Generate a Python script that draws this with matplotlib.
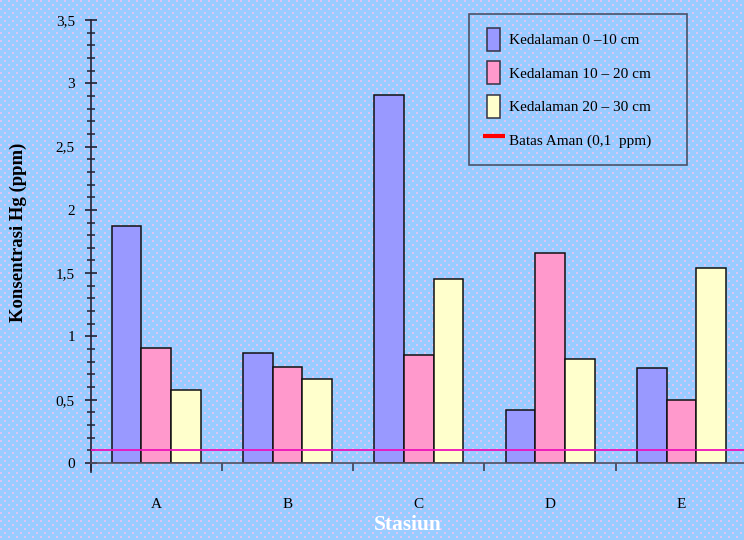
import numpy as np
import matplotlib
matplotlib.use('Agg')
import matplotlib.pyplot as plt
from matplotlib.patches import Patch, Rectangle
from matplotlib.lines import Line2D
from matplotlib.legend_handler import HandlerPatch
from matplotlib.ticker import MultipleLocator, FixedLocator, FixedFormatter, NullFormatter

# Mercury concentration per station and sampling depth
stasiun = ['A', 'B', 'C', 'D', 'E']
depth_0_10 = [1.87, 0.87, 2.91, 0.42, 0.75]
depth_10_20 = [0.91, 0.76, 0.85, 1.66, 0.50]
depth_20_30 = [0.58, 0.66, 1.45, 0.82, 1.54]
batas_aman = 0.1

labels = ['Kedalaman 0 \u201310 cm', 'Kedalaman 10 \u2013 20 cm', 'Kedalaman 20 \u2013 30 cm']
colors = ['#9999FF', '#FF99CC', '#FFFFCC']

plt.rcParams['font.family'] = ['Liberation Serif', 'DejaVu Serif']

W, H = 744, 540
fig = plt.figure(figsize=(W / 100, H / 100), dpi=100)

# dotted light-blue background
bg = np.zeros((H, W, 3))
bg[:] = np.array([0x99, 0xCC, 0xFF]) / 255.0
dot = np.array([0xDD, 0xC4, 0xF5]) / 255.0
yy, xx = np.mgrid[0:H, 0:W]
mask = ((xx % 8) < 2) & ((yy % 8) < 2)
mask |= (((xx + 4) % 8) < 2) & (((yy + 4) % 8) < 2)
bg[mask] = dot
fig.figimage(bg, xo=0, yo=0, origin='upper', zorder=-10)

ax = fig.add_axes([90.5 / W, (H - 463) / H, (W - 90.5) / W, 443 / H])
ax.patch.set_visible(False)

x = np.arange(len(stasiun)) + 0.5
bw = 0.226
for i, (vals, c) in enumerate(zip([depth_0_10, depth_10_20, depth_20_30], colors)):
    ax.bar(x + (i - 1) * bw, vals, width=bw, color=c, edgecolor='#111111',
           linewidth=1.1, zorder=2)

ax.axhline(batas_aman, color='#EE11BB', linewidth=1.3, zorder=3)

ax.set_xlim(0, (W - 90.5) / 131.3)
ax.set_ylim(0, 3.5)

for s in ['top', 'right']:
    ax.spines[s].set_visible(False)
ax.spines['left'].set_color('#222233')
ax.spines['left'].set_linewidth(1.2)
ax.spines['left'].set_bounds(-0.07, 3.5)
ax.spines['bottom'].set_color('#505060')
ax.spines['bottom'].set_linewidth(1.2)

ax.yaxis.set_major_locator(MultipleLocator(0.5))
ax.yaxis.set_minor_locator(MultipleLocator(0.1))
ytick_vals = np.arange(0, 3.51, 0.5)
ax.set_yticks(ytick_vals)
ax.set_yticklabels([('%g' % v).replace('.', ',') for v in ytick_vals], fontsize=11)
ax.tick_params(axis='y', which='major', direction='inout', length=8.5, width=1.2,
               color='#222233', pad=7)
ax.tick_params(axis='y', which='minor', direction='inout', length=6, width=1.1,
               color='#222233')

ax.xaxis.set_major_locator(FixedLocator(np.arange(0, 5)))
ax.xaxis.set_major_formatter(NullFormatter())
ax.xaxis.set_minor_locator(FixedLocator(x))
ax.xaxis.set_minor_formatter(FixedFormatter(stasiun))
ax.tick_params(axis='x', which='major', direction='out', length=6, width=1.1,
               color='#333344')
ax.tick_params(axis='x', which='minor', length=0, pad=25, labelsize=11)

ax.set_ylabel('Konsentrasi Hg (ppm)', fontsize=13.5, fontweight='bold')
ax.yaxis.set_label_coords(-63 / (W - 90.5), (463 - 232) / 443)
fig.text(408 / W, 1 - 525 / H, 'Stasiun', color='white', fontsize=15.5,
         fontweight='bold', ha='center', va='center')


def narrow_patch(legend, orig_handle, xdescent, ydescent, width, height, fontsize):
    w = 13 * 72 / 100
    return Rectangle((xdescent + 3, -ydescent), w, height)


handles = [Patch(facecolor=c, edgecolor='#333344', linewidth=1.1) for c in colors]
handles.append(Line2D([], [], color='#FF0000', linewidth=3, solid_capstyle='butt'))
leg = ax.legend(handles, labels + ['Batas Aman (0,1  ppm)'],
                loc='upper left', bbox_to_anchor=(469 / W, 1 - 14 / H, 218 / W, 0),
                bbox_transform=fig.transFigure, mode='expand', fontsize=11,
                handlelength=1.45, handleheight=1.95, handletextpad=0.25,
                labelspacing=0.68, borderpad=0.9, borderaxespad=0,
                fancybox=False, frameon=True,
                handler_map={Patch: HandlerPatch(patch_func=narrow_patch)})
fr = leg.get_frame()
fr.set_facecolor('none')
fr.set_edgecolor('#333344')
fr.set_linewidth(1.2)

fig.savefig('out.png', dpi=100)
